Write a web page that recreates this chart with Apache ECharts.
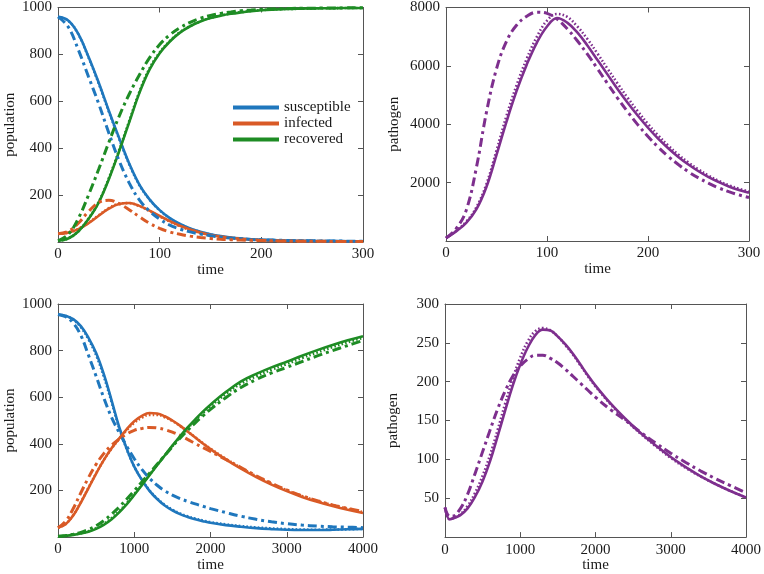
<!DOCTYPE html>
<html>
<head>
<meta charset="utf-8">
<script src="https://cdn.jsdelivr.net/npm/echarts@6/dist/echarts.min.js"></script>
<style>html,body{margin:0;padding:0;background:#fff;}#c{width:764px;height:574px;}</style>
</head>
<body>
<div id="c"></div>
<script>
// ---------- Panel 1: population, time 0..300 ----------
const T1 = [0,10,20,30,40,50,60,70,80,90,100,110,120,130,140,150,160,170,180,190,200,210,220,230,240,250,260,270,280,290,300];
const S1_solid = [960,945,888,790,680,560,445,335,245,182,136,102,77,58,44,33,25,19,15,12,10,8,7,6,5,5,4,4,4,3,3];
const S1_dot   = [960,944,886,787,676,556,441,332,243,181,135,101,76,57,43,32,24,18,14,11,9,8,7,6,5,5,4,4,3,3,3];
const S1_dash  = [960,918,820,705,590,465,348,252,180,132,98,72,55,43,34,27,21,17,14,11,9,8,7,6,5,5,4,4,4,3,3];
const I1_solid = [35,40,55,80,112,142,162,166,154,134,111,89,69,53,40,30,23,18,14,11,8,6,5,4,4,3,3,3,2,2,2];
const I1_dot   = [35,40,56,82,114,144,163,166,153,132,109,87,67,51,39,29,22,17,13,10,8,6,5,4,4,3,3,3,2,2,2];
const I1_dash  = [35,45,80,130,168,178,164,138,108,80,58,43,33,25,19,15,12,10,8,7,6,5,4,4,3,3,3,2,2,2,2];
const R1_solid = [5,15,45,98,168,268,385,510,635,735,805,855,893,920,940,955,965,973,979,984,988,991,993,994,995,996,997,997,998,998,998];
const R1_dot   = [5,15,46,100,171,272,390,515,640,740,808,857,895,921,941,956,966,974,980,985,989,991,993,994,995,996,997,997,998,998,998];
const R1_dash  = [5,32,100,200,310,425,535,630,712,785,842,883,914,937,954,966,975,981,986,989,992,994,995,996,997,997,998,998,998,999,999];

// ---------- Panel 2: pathogen, time 0..300 ----------
const T2 = T1;
const P2_solid = [100,330,620,1080,1850,2950,4100,5150,6050,6800,7350,7640,7480,7150,6700,6200,5700,5200,4730,4290,3880,3510,3180,2880,2620,2390,2190,2020,1870,1750,1650];
const P2_dot   = [100,350,660,1150,1950,3100,4300,5350,6250,7000,7550,7780,7680,7350,6920,6420,5900,5390,4900,4440,4010,3620,3270,2960,2690,2450,2240,2060,1910,1790,1690];
const P2_dash  = [100,420,1050,2500,4400,5900,6850,7400,7700,7840,7800,7600,7270,6860,6400,5900,5390,4890,4420,3980,3580,3220,2900,2620,2370,2160,1980,1820,1690,1580,1490];

// ---------- Panel 3: population, time 0..4000 ----------
const T3 = [0,100,200,300,400,500,600,700,800,900,1000,1100,1200,1300,1400,1500,1600,1700,1800,1900,2000,2200,2400,2600,2800,3000,3200,3400,3600,3800,4000];
const S3_solid = [955,950,935,905,855,790,700,590,475,380,302,245,198,163,135,114,98,86,76,68,61,51,44,38,34,31,30,30,31,33,35];
const S3_dot   = [955,949,932,900,848,780,690,582,470,378,302,246,200,165,138,117,101,89,79,71,64,54,47,41,37,34,32,31,32,33,35];
const S3_dash  = [955,945,918,865,780,690,598,515,450,390,336,290,252,222,198,180,165,153,142,132,122,105,89,76,65,57,51,47,44,42,40];
const I3_solid = [40,55,92,148,210,272,330,380,422,462,497,520,532,530,518,500,478,453,427,401,377,333,293,257,225,197,172,151,133,117,103];
const I3_dot   = [40,56,94,150,212,273,330,378,420,458,490,512,524,524,514,498,477,453,428,403,379,336,297,261,229,201,176,155,137,121,107];
const I3_dash  = [40,68,122,190,255,312,358,393,420,442,458,466,470,468,461,450,436,419,401,384,367,333,298,263,231,202,177,156,138,123,110];
const R3_solid = [3,5,9,15,23,35,52,75,105,140,180,222,265,308,350,392,432,470,505,538,568,622,668,700,728,752,778,802,824,844,862];
const R3_dot   = [3,5,10,16,25,38,56,80,110,145,184,225,267,309,350,390,429,466,500,532,561,614,658,690,718,742,768,792,815,836,855];
const R3_dash  = [3,6,12,20,32,48,70,97,128,162,198,236,274,312,350,388,424,458,490,520,548,598,642,676,704,728,753,777,800,822,843];

// ---------- Panel 4: pathogen, time 0..4000 ----------
const T4 = [0,60,100,200,300,400,500,600,700,800,900,1000,1100,1200,1300,1400,1500,1600,1700,1800,1900,2000,2200,2400,2600,2800,3000,3200,3400,3600,3800,4000];
const P4_solid = [38,23,24,28,37,52,72,98,130,163,195,222,244,260,267,266,258,248,236,222,208,195,172,152,134,118,103,90,78,68,59,51];
const P4_dot   = [38,23,24,29,40,57,79,106,138,172,204,231,252,265,269,266,258,247,235,221,207,194,171,151,133,117,102,89,78,68,59,51];
const P4_dash  = [38,27,27,36,55,82,110,138,165,188,207,220,229,234,234,230,224,216,207,198,189,180,164,150,135,121,108,96,85,75,66,57];

// ---------- labels ----------
const legendNames = ['susceptible','infected','recovered'];
const xName = 'time';
const yNames = ['population','pathogen','population','pathogen'];

const C_S = '#1f77bd', C_I = '#d95a26', C_R = '#1e8c24', C_P = '#7e2f8e';
const FONT = "'Liberation Serif', 'Times New Roman', Times, serif";
const AX = '#555';
const TXT = '#1a1a1a';

function zip(t, v){ return t.map((x,i)=>[x, v[i]]); }

const STYLE = {
  solid: {type:'solid', width:2.6},
  dot:   {type:[1.6,2.2], width:2.6},
  dash:  {type:[9,4,3,4], width:3}
};
function line(name, t, v, color, style, gi){
  return {
    name, type:'line', xAxisIndex: gi*2, yAxisIndex: gi*2,
    data: zip(t, v), showSymbol:false, symbol:'none', smooth:0.4,
    lineStyle: Object.assign({color}, STYLE[style]), itemStyle:{color}, silent:true, animation:false, z: 2
  };
}

const grids = [
  {left:58, top:7, width:305, height:235},
  {left:446, top:7, width:303, height:234},
  {left:58, top:304, width:305, height:233},
  {left:445, top:304, width:304, height:234}
];
const xMax = [300,300,4000,4000], xInt = [100,100,1000,1000];
const yMax = [1000,8000,1000,300], yInt = [200,2000,200,50];
const yGap = [40,44,40,44];

const xAxes = [], yAxes = [];
grids.forEach((g,i)=>{
  const lineStyle = {color:AX, width:1};
  xAxes.push({
    type:'value', gridIndex:i, position:'bottom', min:0, max:xMax[i], interval:xInt[i],
    axisLine:{show:true, onZero:false, lineStyle}, axisTick:{inside:true, length:5, lineStyle},
    splitLine:{show:false},
    axisLabel:{fontFamily:FONT, fontSize:15, color:TXT, margin:5, formatter: v => String(v)},
    name:xName, nameLocation:'middle', nameGap:19,
    nameTextStyle:{fontFamily:FONT, fontSize:15, color:TXT}
  });
  xAxes.push({
    type:'value', gridIndex:i, position:'top', min:0, max:xMax[i], interval:xInt[i],
    axisLine:{show:true, onZero:false, lineStyle}, axisTick:{inside:true, length:5, lineStyle},
    splitLine:{show:false}, axisLabel:{show:false}
  });
  yAxes.push({
    type:'value', gridIndex:i, position:'left', min:0, max:yMax[i], interval:yInt[i],
    axisLine:{show:true, onZero:false, lineStyle}, axisTick:{inside:true, length:5, lineStyle},
    splitLine:{show:false},
    axisLabel:{fontFamily:FONT, fontSize:15, color:TXT, margin:6,
      formatter: v => v === 0 ? '' : String(v)},
    name:yNames[i], nameLocation:'middle', nameGap:yGap[i], nameRotate:90,
    nameTextStyle:{fontFamily:FONT, fontSize:15, color:TXT}
  });
  yAxes.push({
    type:'value', gridIndex:i, position:'right', min:0, max:yMax[i], interval:yInt[i],
    axisLine:{show:true, onZero:false, lineStyle}, axisTick:{inside:true, length:5, lineStyle},
    splitLine:{show:false}, axisLabel:{show:false}
  });
});

const series = [
  line('susceptible dotted', T1, S1_dot, C_S, 'dot', 0),
  line('infected dotted', T1, I1_dot, C_I, 'dot', 0),
  line('recovered dotted', T1, R1_dot, C_R, 'dot', 0),
  line(legendNames[0], T1, S1_solid, C_S, 'solid', 0),
  line(legendNames[1], T1, I1_solid, C_I, 'solid', 0),
  line(legendNames[2], T1, R1_solid, C_R, 'solid', 0),
  line('susceptible dashed', T1, S1_dash, C_S, 'dash', 0),
  line('infected dashed', T1, I1_dash, C_I, 'dash', 0),
  line('recovered dashed', T1, R1_dash, C_R, 'dash', 0),

  line('pathogen solid', T2, P2_solid, C_P, 'solid', 1),
  line('pathogen dotted', T2, P2_dot, C_P, 'dot', 1),
  line('pathogen dashed', T2, P2_dash, C_P, 'dash', 1),

  line('S3 solid', T3, S3_solid, C_S, 'solid', 2),
  line('S3 dotted', T3, S3_dot, C_S, 'dot', 2),
  line('S3 dashed', T3, S3_dash, C_S, 'dash', 2),
  line('I3 solid', T3, I3_solid, C_I, 'solid', 2),
  line('I3 dotted', T3, I3_dot, C_I, 'dot', 2),
  line('I3 dashed', T3, I3_dash, C_I, 'dash', 2),
  line('R3 solid', T3, R3_solid, C_R, 'solid', 2),
  line('R3 dotted', T3, R3_dot, C_R, 'dot', 2),
  line('R3 dashed', T3, R3_dash, C_R, 'dash', 2),

  line('P4 solid', T4, P4_solid, C_P, 'solid', 3),
  line('P4 dotted', T4, P4_dot, C_P, 'dot', 3),
  line('P4 dashed', T4, P4_dash, C_P, 'dash', 3)
];

const chart = echarts.init(document.getElementById('c'), null, {renderer:'canvas'});
chart.setOption({
  backgroundColor:'#ffffff',
  animation:false,
  grid: grids,
  xAxis: xAxes,
  yAxis: yAxes,
  legend: {
    data: legendNames, orient:'vertical', left:228, top:95,
    icon:'rect', itemWidth:46, itemHeight:4, itemGap:1,
    textStyle:{fontFamily:FONT, fontSize:15, color:TXT},
    selectedMode:false
  },
  series
});
</script>
</body>
</html>
